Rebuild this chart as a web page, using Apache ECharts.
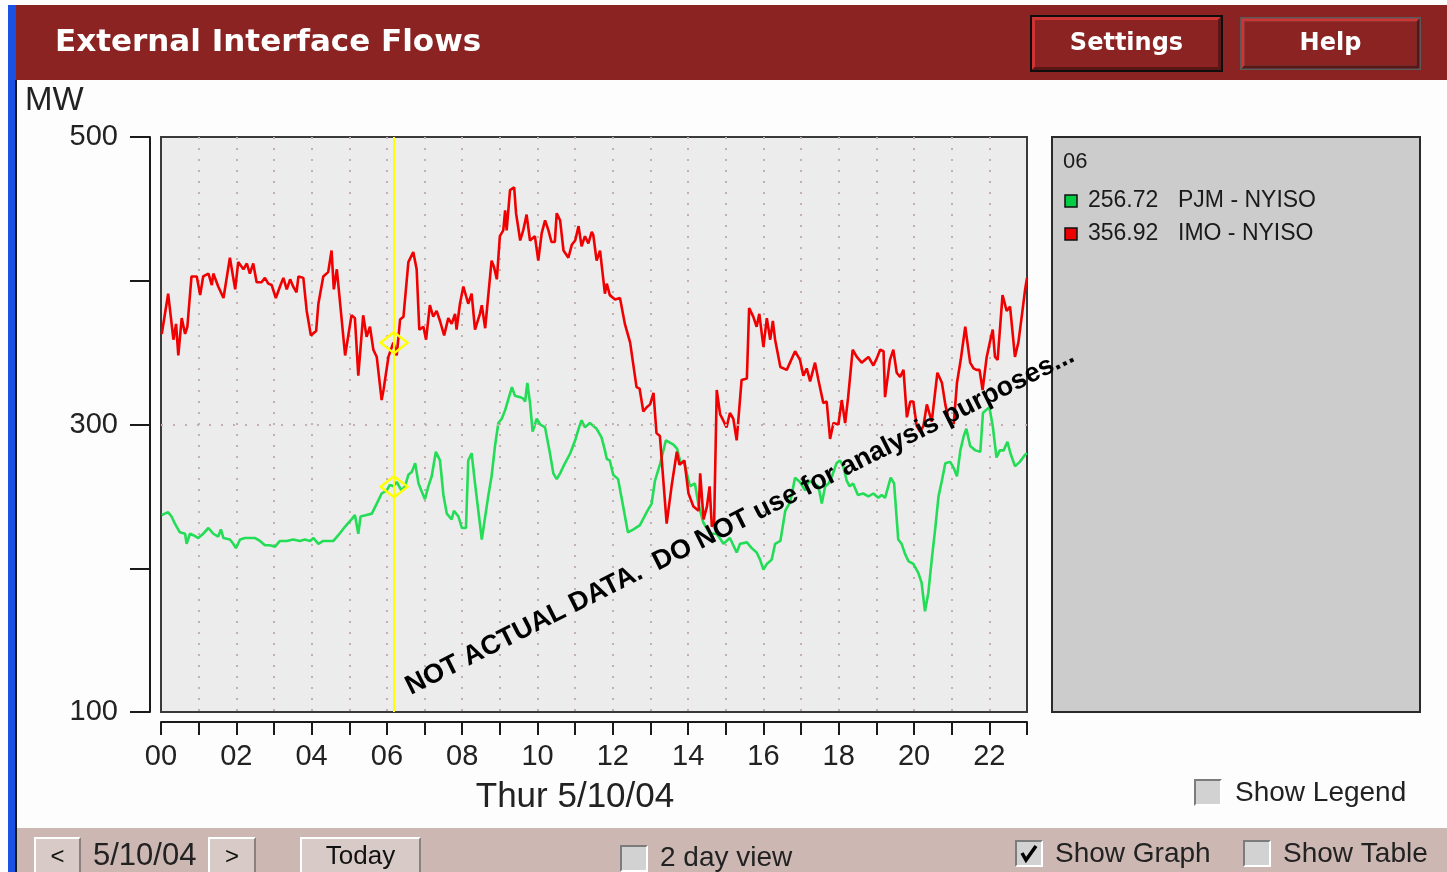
<!DOCTYPE html>
<html>
<head>
<meta charset="utf-8">
<script src="https://cdn.jsdelivr.net/npm/echarts@6/dist/echarts.min.js"></script>
<style>
html,body{margin:0;padding:0;background:#fdfdfd;}
#c{width:1447px;height:872px;}
</style>
</head>
<body>
<div id="c"></div>
<script>
// ---------- data ----------
const chartTitle = 'External Interface Flows';
const unitLabel = 'MW';
const dateLabel = 'Thur 5/10/04';
const navDate = '5/10/04';
const xTickLabels = ['00','02','04','06','08','10','12','14','16','18','20','22'];
const yTickLabels = ['100','300','500'];
const seriesNames = ['PJM - NYISO', 'IMO - NYISO'];
const cursorHour = 6.19;
const cursorLabel = '06';
const cursorValues = [256.72, 356.92];
const watermark = 'NOT ACTUAL DATA.  DO NOT use for analysis purposes...';

const redHours = [0.02,0.19,0.33,0.40,0.46,0.55,0.64,0.70,0.81,0.95,1.04,1.12,1.26,1.35,1.39,1.52,1.66,1.83,1.97,2.05,2.19,2.28,2.36,2.45,2.54,2.67,2.76,2.85,2.94,3.05,3.16,3.25,3.34,3.43,3.51,3.60,3.65,3.78,3.87,3.98,4.12,4.18,4.31,4.44,4.53,4.59,4.67,4.89,4.93,5.06,5.15,5.24,5.37,5.46,5.55,5.64,5.73,5.86,5.91,6.04,6.17,6.26,6.35,6.44,6.57,6.70,6.79,6.86,6.97,7.04,7.14,7.23,7.32,7.41,7.52,7.63,7.72,7.81,7.85,7.94,8.03,8.16,8.25,8.34,8.47,8.52,8.61,8.78,8.84,8.92,9.00,9.09,9.14,9.18,9.27,9.38,9.43,9.54,9.62,9.71,9.80,9.93,10.02,10.11,10.20,10.29,10.37,10.46,10.51,10.60,10.69,10.82,10.91,11.00,11.09,11.17,11.26,11.35,11.44,11.48,11.57,11.66,11.79,11.84,11.92,12.06,12.19,12.32,12.46,12.63,12.71,12.81,12.90,12.99,13.08,13.16,13.25,13.43,13.56,13.70,13.77,13.90,14.01,14.14,14.28,14.32,14.41,14.50,14.57,14.63,14.69,14.76,14.85,14.93,15.02,15.11,15.20,15.29,15.42,15.56,15.62,15.73,15.82,15.89,16.00,16.09,16.18,16.25,16.31,16.45,16.62,16.84,16.97,17.06,17.15,17.24,17.37,17.46,17.59,17.68,17.77,17.86,17.99,18.08,18.17,18.25,18.37,18.48,18.61,18.70,18.79,18.92,19.01,19.10,19.19,19.23,19.36,19.45,19.54,19.63,19.72,19.81,19.90,19.98,20.07,20.16,20.25,20.34,20.47,20.62,20.74,20.83,20.92,21.05,21.14,21.24,21.36,21.49,21.58,21.66,21.74,21.82,21.93,22.02,22.09,22.15,22.22,22.35,22.46,22.55,22.68,22.77,22.86,22.95,23.00];
const redMW = [363,391,359,370,348,374,363,368,403,403,390,403,405,397,405,396,388,416,394,413,408,412,405,412,399,399,402,398,397,388,396,402,394,401,396,392,403,402,379,362,365,384,403,406,421,394,408,348,348,376,374,334,376,361,368,352,347,317,324,347,357,348,373,375,413,420,408,366,368,359,383,375,379,372,362,374,370,377,366,384,396,384,391,366,377,383,367,414,410,401,431,435,449,435,463,465,447,428,435,446,428,431,414,433,442,435,427,427,447,442,421,416,425,428,438,424,431,426,434,432,414,421,391,398,390,387,388,370,357,326,325,309,312,314,322,294,292,231,257,281,272,275,252,243,240,266,234,243,257,229,231,324,307,303,298,308,304,289,331,332,381,375,368,377,354,374,359,372,359,340,338,351,345,334,339,330,343,331,315,316,290,301,300,317,301,319,352,347,343,345,347,341,346,352,351,319,345,352,336,333,338,305,316,316,299,295,299,314,302,336,329,314,303,299,329,345,368,343,339,338,338,324,347,358,366,347,345,390,379,382,347,357,375,394,402];

const greenHours = [0.02,0.10,0.19,0.28,0.37,0.50,0.64,0.68,0.77,0.86,0.99,1.12,1.26,1.39,1.52,1.59,1.66,1.83,1.92,1.99,2.10,2.23,2.36,2.50,2.63,2.76,2.89,3.03,3.16,3.34,3.51,3.69,3.82,3.96,4.05,4.18,4.31,4.44,4.58,4.71,4.89,5.06,5.15,5.24,5.30,5.46,5.60,5.73,5.86,5.99,6.08,6.17,6.26,6.39,6.48,6.57,6.66,6.75,6.84,6.93,7.01,7.10,7.19,7.30,7.41,7.50,7.59,7.72,7.78,7.90,7.99,8.10,8.16,8.25,8.34,8.52,8.69,8.78,8.87,8.96,9.05,9.14,9.23,9.32,9.40,9.54,9.62,9.67,9.73,9.80,9.87,9.98,10.07,10.20,10.33,10.42,10.51,10.60,10.69,10.87,11.00,11.09,11.17,11.26,11.39,11.57,11.70,11.79,11.84,11.92,12.01,12.14,12.26,12.40,12.55,12.72,12.90,13.03,13.12,13.26,13.41,13.61,13.71,13.80,13.89,14.05,14.18,14.27,14.40,14.58,14.76,14.94,15.11,15.29,15.38,15.56,15.69,15.82,15.91,16.00,16.09,16.22,16.31,16.45,16.58,16.71,16.84,16.97,17.11,17.20,17.33,17.46,17.55,17.64,17.73,17.82,17.94,18.03,18.12,18.21,18.29,18.38,18.51,18.65,18.79,18.92,19.05,19.14,19.23,19.38,19.47,19.58,19.67,19.76,19.85,19.98,20.11,20.20,20.29,20.38,20.47,20.56,20.65,20.74,20.83,20.96,21.05,21.14,21.23,21.32,21.39,21.49,21.63,21.76,21.83,21.91,22.00,22.09,22.19,22.28,22.38,22.48,22.56,22.68,22.81,22.95,23.00];
const greenMW = [237,238,239,236,231,225,224,217,224,223,221,224,228,224,222,227,221,220,217,214,220,221,221,221,219,216,216,215,219,219,220,219,220,219,221,217,219,219,219,223,229,234,237,224,236,237,238,245,252,254,258,257,260,254,257,265,267,273,259,253,248,257,264,281,275,251,238,234,240,236,228,228,275,280,259,220,250,264,285,301,304,310,318,326,320,319,318,316,329,315,295,304,300,298,280,266,262,266,271,280,289,297,303,298,301,297,291,282,276,275,265,262,245,225,227,230,239,245,261,273,289,286,283,273,274,257,259,245,232,224,224,217,221,211,217,218,214,211,206,199,203,206,217,219,240,246,263,260,254,261,259,257,245,257,259,264,273,275,271,261,257,259,251,252,250,252,249,251,249,263,259,220,217,210,205,203,197,190,170,183,206,227,250,261,273,274,270,264,282,292,297,285,282,281,308,310,312,299,277,282,282,288,280,271,274,279,280];

// ---------- helpers ----------
function zip(xs, ys) { return xs.map((x, i) => [x, ys[i]]); }

const HEADER = '#8b2323';
function bevelButton(x, y, w, h, outerColor, outerW, b, light, dark, face, label, font, color) {
  const els = [];
  els.push({type:'rect', shape:{x:x, y:y, width:w, height:h}, style:{fill:outerColor}});
  const x1 = x + outerW, y1 = y + outerW, x2 = x + w - outerW, y2 = y + h - outerW;
  els.push({type:'polygon', shape:{points:[[x1,y1],[x2,y1],[x2-b,y1+b],[x1+b,y1+b],[x1+b,y2-b],[x1,y2]]}, style:{fill:light}});
  els.push({type:'polygon', shape:{points:[[x2,y1],[x2,y2],[x1,y2],[x1+b,y2-b],[x2-b,y2-b],[x2-b,y1+b]]}, style:{fill:dark}});
  els.push({type:'rect', shape:{x:x1+b, y:y1+b, width:(x2-x1)-2*b, height:(y2-y1)-2*b}, style:{fill:face}});
  if (label) {
    els.push({type:'text', style:{text:label, x:(x+x+w)/2, y:(y+y+h)/2, font:font, fill:color,
      align:'center', verticalAlign:'middle', textAlign:'center', textVerticalAlign:'middle'}});
  }
  return els;
}
function checkbox(x, y, checked) {
  const els = [];
  els.push({type:'rect', shape:{x:x, y:y, width:28, height:27}, style:{fill:'#ffffff'}});
  els.push({type:'polygon', shape:{points:[[x,y],[x+28,y],[x+26,y+2],[x+2,y+2],[x+2,y+25],[x,y+27]]}, style:{fill:'#7c7c7c'}});
  els.push({type:'rect', shape:{x:x+2, y:y+2, width:24, height:23}, style:{fill:'#d2d2d2'}});
  if (checked) {
    els.push({type:'polyline', shape:{points:[[x+7,y+13],[x+11,y+20],[x+21,y+6]]}, style:{stroke:'#000', lineWidth:3.5, fill:null}});
  }
  return els;
}
function txt(text, x, y, font, fill, align) {
  return {type:'text', style:{text:text, x:x, y:y, font:font, fill:fill || '#222',
    align:align || 'left', verticalAlign:'middle', textAlign:align || 'left', textVerticalAlign:'middle'}};
}

const F = '"Liberation Sans", Arial, sans-serif';
const FB = '"DejaVu Sans", Verdana, sans-serif';

let graphics = [];
// left blue stripe and dark edge
graphics.push({type:'rect', shape:{x:8, y:5, width:8, height:867}, style:{fill:'#1b52e3'}});
graphics.push({type:'rect', shape:{x:15, y:80, width:2, height:792}, style:{fill:'#1a1a1a'}});
// header
graphics.push({type:'rect', shape:{x:16, y:5, width:1431, height:75}, style:{fill:HEADER}});
graphics.push(txt(chartTitle, 55, 43, 'bold 31px ' + FB, '#ffffff', 'left'));
graphics = graphics.concat(bevelButton(1030, 15, 193, 57, '#0d0d0d', 2, 3, '#cf3434', '#5a1515', HEADER, 'Settings', 'bold 24px ' + FB, '#ffffff'));
graphics = graphics.concat(bevelButton(1240, 17, 181, 53, '#5a5a5a', 1.5, 3, '#cf3434', '#5a1515', HEADER, 'Help', 'bold 24px ' + FB, '#ffffff'));
// unit label
graphics.push(txt(unitLabel, 25, 101, '33px ' + F, '#222', 'left'));
// x axis title
graphics.push(txt(dateLabel, 575, 797, '35px ' + F, '#222', 'center'));
// legend panel
graphics.push({type:'rect', shape:{x:1052, y:137, width:368, height:575}, style:{fill:'#cccccc', stroke:'#2a2a2a', lineWidth:2}});
graphics.push(txt(cursorLabel, 1063, 162, '22px ' + F, '#1a1a1a'));
const swatch = ['#00cc44', '#ee0000'];
const rowY = [201, 234];
for (let i = 0; i < 2; i++) {
  graphics.push({type:'rect', shape:{x:1065, y:rowY[i]-6, width:12, height:12}, style:{fill:swatch[i], stroke:'#111', lineWidth:1.5}});
  graphics.push(txt(cursorValues[i].toFixed(2), 1088, rowY[i], '23px ' + F, '#1a1a1a', 'left'));
  graphics.push(txt(seriesNames[i], 1178, rowY[i], '23px ' + F, '#1a1a1a', 'left'));
}
// show legend checkbox
graphics = graphics.concat(checkbox(1194, 779, false));
graphics.push(txt('Show Legend', 1235, 793, '28px ' + F, '#222'));
// bottom bar
graphics.push({type:'rect', shape:{x:17, y:828, width:1430, height:44}, style:{fill:'#ccb7b2'}});
graphics = graphics.concat(bevelButton(34, 837, 47, 40, '#ffffff', 0, 2, '#ffffff', '#8a807d', '#d8cac6', '<', '24px ' + F, '#111'));
graphics.push(txt(navDate, 93, 856, '31px ' + F, '#222', 'left'));
graphics = graphics.concat(bevelButton(208, 837, 48, 40, '#ffffff', 0, 2, '#ffffff', '#8a807d', '#d8cac6', '>', '24px ' + F, '#111'));
graphics = graphics.concat(bevelButton(300, 837, 121, 40, '#ffffff', 0, 2, '#ffffff', '#8a807d', '#d8cac6', 'Today', '26px ' + F, '#111'));
graphics = graphics.concat(checkbox(620, 845, false));
graphics.push(txt('2 day view', 660, 858, '28px ' + F, '#222'));
graphics = graphics.concat(checkbox(1015, 840, true));
graphics.push(txt('Show Graph', 1055, 854, '28px ' + F, '#222'));
graphics = graphics.concat(checkbox(1243, 840, false));
graphics.push(txt('Show Table', 1283, 854, '28px ' + F, '#222'));
// watermark
graphics.push({type:'text', z:100, x:740, y:521, rotation:26.7 * Math.PI / 180,
  style:{text:watermark, font:'bold 27px ' + F, fill:'#000000', align:'center', verticalAlign:'middle', textAlign:'center', textVerticalAlign:'middle'}});

const option = {
  animation: false,
  backgroundColor: '#fdfdfd',
  grid: {left:161, top:137, width:866, height:575, show:true, backgroundColor:'#ececec', borderColor:'#3a3a3a', borderWidth:2, containLabel:false},
  xAxis: {
    type:'value', min:0, max:23, interval:1, offset:10,
    axisLine:{show:true, onZero:false, lineStyle:{color:'#1a1a1a', width:2}},
    axisTick:{show:true, inside:false, length:13, lineStyle:{color:'#1a1a1a', width:2}},
    axisLabel:{margin:20, fontSize:29, color:'#222', fontFamily:'Liberation Sans', showMinLabel:true, showMaxLabel:true,
      formatter: v => (v % 2 === 0 ? xTickLabels[v / 2] : '')},
    splitLine:{show:true, showMinLine:false, showMaxLine:false, lineStyle:{color:'#c4b0b0', type:[2,9], width:2}}
  },
  yAxis: {
    type:'value', min:100, max:500, interval:100, offset:11,
    axisLine:{show:true, onZero:false, lineStyle:{color:'#1a1a1a', width:2}},
    axisTick:{show:true, inside:false, length:20, lineStyle:{color:'#1a1a1a', width:2}},
    axisLabel:{margin:32, fontSize:29, color:'#222', fontFamily:'Liberation Sans',
      formatter: v => (yTickLabels.indexOf(String(v)) >= 0 ? String(v) : '')},
    splitLine:{show:false}
  },
  series: [
    {
      name: seriesNames[0], type:'line', data: zip(greenHours, greenMW), showSymbol:false, symbol:'none', z:2,
      lineStyle:{color:'#22dd55', width:2.6}, silent:true,
      markLine:{silent:true, symbol:['none','none'], label:{show:false},
        lineStyle:{color:'#c4b0b0', type:[2,10], width:2}, data:[{yAxis:300}]}
    },
    {
      name: seriesNames[1], type:'line', data: zip(redHours, redMW), showSymbol:false, symbol:'none', z:3,
      lineStyle:{color:'#f00000', width:2.6}, silent:true
    },
    {
      name: 'cursor', type:'line', data: [], z:5, silent:true,
      markLine:{silent:true, symbol:['none','none'], label:{show:false},
        lineStyle:{color:'#ffff00', type:'solid', width:2}, data:[{xAxis:cursorHour}]},
      markPoint:{silent:true, symbol:'diamond', symbolSize:[27,21], label:{show:false},
        itemStyle:{color:'rgba(0,0,0,0)', borderColor:'#ffff00', borderWidth:2.5},
        data:[{coord:[cursorHour, cursorValues[0]]}, {coord:[cursorHour, cursorValues[1]]}]}
    }
  ],
  graphic: {elements: graphics}
};

const chart = echarts.init(document.getElementById('c'), null, {renderer:'canvas', width:1447, height:872});
chart.setOption(option);
</script>
</body>
</html>
